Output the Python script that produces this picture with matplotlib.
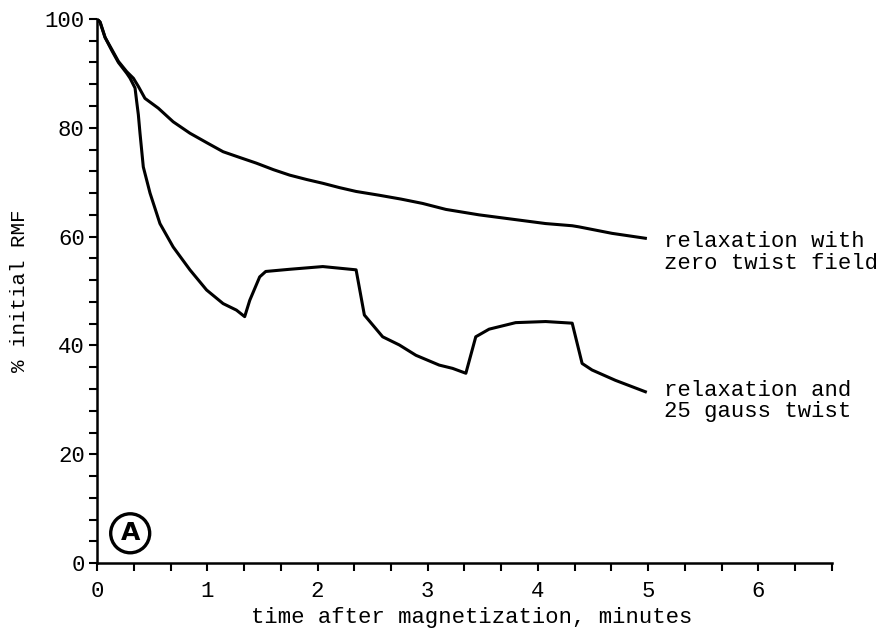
import numpy as np
import matplotlib.pyplot as plt
from matplotlib.ticker import MultipleLocator

plt.rcParams['font.family'] = ['Liberation Mono', 'DejaVu Sans Mono']

# relaxation with zero twist field
t_zero = [0, 0.027, 0.072, 0.133, 0.193, 0.269, 0.329, 0.374, 0.434, 0.555,
          0.690, 0.842, 1.0, 1.143, 1.30, 1.445, 1.60, 1.747, 1.90, 2.048,
          2.20, 2.350, 2.561, 2.757, 2.953, 3.165, 3.466, 3.768, 4.070,
          4.311, 4.371, 4.673, 4.975]
rmf_zero = [100, 99.4, 96.6, 94.4, 92.2, 90.3, 89.1, 87.6, 85.4, 83.6,
            81.1, 79.0, 77.2, 75.6, 74.5, 73.5, 72.3, 71.3, 70.5, 69.8,
            69.0, 68.3, 67.6, 66.9, 66.1, 65.0, 64.0, 63.2, 62.4,
            62.0, 61.8, 60.6, 59.7]

# relaxation and 25 gauss twist
t_twist = [0, 0.027, 0.072, 0.133, 0.193, 0.269, 0.299, 0.344, 0.359, 0.374,
           0.389, 0.419, 0.480, 0.570, 0.690, 0.842, 0.993, 1.143, 1.264,
           1.339, 1.385, 1.475, 1.530, 1.747, 2.048, 2.350, 2.425, 2.591,
           2.742, 2.893, 3.104, 3.225, 3.346, 3.436, 3.557, 3.798, 4.070,
           4.311, 4.401, 4.491, 4.703, 4.975]
rmf_twist = [100, 99.4, 96.6, 94.2, 92.0, 90.0, 89.1, 87.3, 84.8, 82.4,
             79.0, 72.8, 68.0, 62.4, 58.1, 53.9, 50.2, 47.7, 46.5,
             45.3, 48.3, 52.6, 53.6, 54.0, 54.5, 53.9, 45.6, 41.6,
             40.1, 38.2, 36.4, 35.8, 34.9, 41.6, 43.0, 44.2, 44.4,
             44.1, 36.7, 35.5, 33.6, 31.5]

x_ticks = [0, 1, 2, 3, 4, 5, 6]
y_ticks = [0, 20, 40, 60, 80, 100]

fig = plt.figure(figsize=(8.83, 6.3), dpi=100)
ax = fig.add_axes([0.110, 0.106, 0.832, 0.864])

ax.plot(t_zero, rmf_zero, color='black', lw=2.2, solid_joinstyle='round')
ax.plot(t_twist, rmf_twist, color='black', lw=2.2, solid_joinstyle='round')

ax.set_xlim(0, 20 / 3)
ax.set_ylim(0, 100)
ax.set_xticks(x_ticks)
ax.set_yticks(y_ticks)
ax.xaxis.set_minor_locator(MultipleLocator(1 / 3))
ax.yaxis.set_minor_locator(MultipleLocator(4))
ax.tick_params(which='both', direction='out', width=1.5, length=6, labelsize=16)
ax.tick_params(axis='x', which='major', pad=7)
ax.tick_params(axis='y', which='major', pad=3)

for s in ['top', 'right']:
    ax.spines[s].set_visible(False)
for s in ['left', 'bottom']:
    ax.spines[s].set_linewidth(1.8)

xl = ax.set_xlabel('time after magnetization, minutes', fontsize=16)
xl.set_va('center')
ax.xaxis.set_label_coords(0.51, -0.099)
yl = ax.set_ylabel('% initial RMF', fontsize=15)
yl.set_va('center')
ax.yaxis.set_label_coords(-0.106, 0.50)

ax.text(5.14, 57.1, 'relaxation with\nzero twist field', fontsize=16,
        va='center', ha='left', linespacing=1.05)
ax.text(5.14, 29.8, 'relaxation and\n25 gauss twist', fontsize=16,
        va='center', ha='left', linespacing=1.05)

ax.text(0.30, 5.5, 'A', fontsize=18, fontweight='bold', ha='center', va='center',
        family='DejaVu Sans',
        bbox=dict(boxstyle='circle,pad=0.3', fc='white', ec='black', lw=2.4))

fig.savefig('out.png', dpi=100)
